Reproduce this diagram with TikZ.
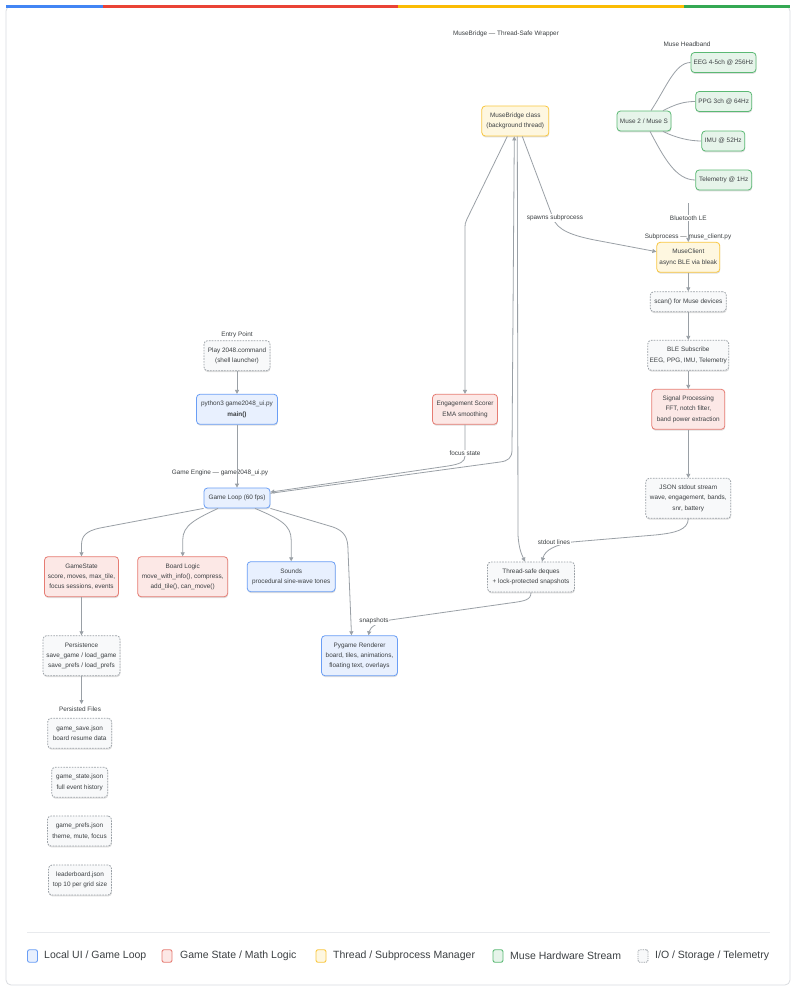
\documentclass[tikz,border=0pt]{standalone}
\usepackage{fontspec}
\setmainfont{Liberation Sans}
\usetikzlibrary{arrows.meta,shadows}
\definecolor{txt}{HTML}{3C4043}
\definecolor{edgec}{HTML}{9AA0A6}
\definecolor{frm}{HTML}{DADCE0}
\definecolor{sep}{HTML}{E8EAED}
\definecolor{gblue}{HTML}{4285F4}
\definecolor{gred}{HTML}{EA4335}
\definecolor{gyel}{HTML}{FBBC04}
\definecolor{ggrn}{HTML}{34A853}
\definecolor{uib}{HTML}{6A9EF5}
\definecolor{uif}{HTML}{E8F0FE}
\definecolor{lgb}{HTML}{E67C73}
\definecolor{lgf}{HTML}{FCE8E6}
\definecolor{thb}{HTML}{F9C740}
\definecolor{thf}{HTML}{FEF7E0}
\definecolor{hwb}{HTML}{5BB974}
\definecolor{hwf}{HTML}{E6F4EA}
\definecolor{iob}{HTML}{9AA0A6}
\definecolor{iof}{HTML}{F8F9FA}
\newcommand{\nf}{\fontsize{6.4}{10.3}\selectfont}
\newcommand{\lgf}{\fontsize{10.5}{12}\selectfont}
\tikzset{
  basebox/.style={rounded corners=3.5pt, align=center, inner sep=1pt, font=\nf, text=txt,
    line width=0.8pt, drop shadow={opacity=0.13, shadow xshift=0.4pt, shadow yshift=-1.4pt, fill=black}},
  uibox/.style={basebox, draw=uib, fill=uif},
  logicbox/.style={basebox, draw=lgb, fill=lgf},
  threadbox/.style={basebox, draw=thb, fill=thf},
  hwbox/.style={basebox, draw=hwb, fill=hwf},
  iobox/.style={basebox, draw=iob, fill=iof, dash pattern=on 1.6pt off 1.2pt},
  sz/.style 2 args={minimum width=#1pt, minimum height=#2pt},
  cl/.style={font=\nf, text=txt, inner sep=0pt},
  elbl/.style={font=\nf, text=txt, fill=white, inner sep=0.8pt},
  ln/.style={draw=edgec, line width=0.8pt},
  arr/.style={draw=edgec, line width=0.8pt, -{Triangle[length=4pt,width=4pt]}},
  swatch/.style={rounded corners=2pt, line width=0.9pt, minimum width=10pt, minimum height=12.5pt, inner sep=0pt},
  lgtext/.style={anchor=west, font=\lgf, text=txt, inner sep=0pt}
}
\begin{document}
\begin{tikzpicture}[x=1pt,y=-1pt]
\useasboundingbox (0,0) rectangle (796,991);
\fill[white] (0,0) rectangle (796,991);
% frame
\draw[draw=frm, line width=0.8pt, rounded corners=5pt] (6,6) rectangle (790,985);
\fill[gblue] (6,5) rectangle (103,8);
\fill[gred] (103,5) rectangle (398,8);
\fill[gyel] (398,5) rectangle (684,8);
\fill[ggrn] (684,5) rectangle (790,8);

% cluster labels
\node[cl] (t1) at (506,34) {MuseBridge — Thread-Safe Wrapper};
\node[cl] (t2) at (687,44) {Muse Headband};
\node[cl] (t3) at (688,237) {Subprocess — muse\_client.py};
\node[cl] (t4) at (237,335) {Entry Point};
\node[cl] (t5) at (220,473) {Game Engine — game2048\_ui.py};
\node[cl] (t6) at (80,709) {Persisted Files};

% nodes
\node[hwbox, sz={65}{20}] (eeg) at (723.5,62.5) {EEG 4-5ch @ 256Hz};
\node[hwbox, sz={56}{20}] (ppg) at (723.7,101.5) {PPG 3ch @ 64Hz};
\node[hwbox, sz={43}{20}] (imu) at (723.3,141) {IMU @ 52Hz};
\node[hwbox, sz={56}{20}] (tel) at (723.7,180) {Telemetry @ 1Hz};
\node[hwbox, sz={54}{20}] (muse) at (644,121) {Muse 2 / Muse S};
\node[threadbox, sz={67}{30}] (mb) at (515.3,121) {MuseBridge class\\(background thread)};
\node[threadbox, sz={63}{30}] (mc) at (688.3,257.3) {MuseClient\\async BLE via bleak};
\node[iobox, sz={76}{20}] (scan) at (688.3,301.7) {scan() for Muse devices};
\node[iobox, sz={81}{30}] (ble) at (688.3,355.3) {BLE Subscribe\\EEG, PPG, IMU, Telemetry};
\node[logicbox, sz={73}{40}] (sig) at (688.3,409.3) {Signal Processing\\FFT, notch filter,\\band power extraction};
\node[iobox, sz={85}{40}] (json) at (688.3,498.3) {JSON stdout stream\\wave, engagement, bands,\\snr, battery};
\node[iobox, sz={87}{30}] (tsd) at (531,577) {Thread-safe deques\\+ lock-protected snapshots};
\node[uibox, sz={76}{40}] (pr) at (359.5,655.7) {Pygame Renderer\\board, tiles, animations,\\floating text, overlays};
\node[iobox, sz={66}{30}] (play) at (237,355.7) {Play 2048.command\\(shell launcher)};
\node[uibox, sz={81}{30}] (py) at (237,409.3) {python3 game2048\_ui.py\\\textbf{main()}};
\node[uibox, sz={66}{20}] (gl) at (237,498) {Game Loop (60 fps)};
\node[logicbox, sz={65}{30}] (es) at (465,409.3) {Engagement Scorer\\EMA smoothing};
\node[logicbox, sz={74}{40}] (gs) at (81.5,576.7) {GameState\\score, moves, max\_tile,\\focus sessions, events};
\node[logicbox, sz={90}{40}] (bl) at (182.7,576.7) {Board Logic\\move\_with\_info(), compress,\\add\_tile(), can\_move()};
\node[uibox, sz={88}{30}] (snd) at (291.2,576.7) {Sounds\\procedural sine-wave tones};
\node[iobox, sz={77}{40}] (per) at (81.5,655.7) {Persistence\\save\_game / load\_game\\save\_prefs / load\_prefs};
\node[iobox, sz={64}{30}] (f1) at (79.7,733.3) {game\_save.json\\board resume data};
\node[iobox, sz={56}{30}] (f2) at (79.7,782.3) {game\_state.json\\full event history};
\node[iobox, sz={64}{30}] (f3) at (79.5,831) {game\_prefs.json\\theme, mute, focus};
\node[iobox, sz={63}{30}] (f4) at (80,880) {leaderboard.json\\top 10 per grid size};

% headband links
\draw[ln] ([xshift=7pt]muse.north) .. controls (666,88) and (675,62.5) .. (eeg.west);
\draw[ln] ([xshift=19pt]muse.north) .. controls (676,104) and (684,101.5) .. (ppg.west);
\draw[ln] ([xshift=19pt]muse.south) .. controls (676,138) and (690,141) .. (imu.west);
\draw[ln] ([xshift=6pt]muse.south) .. controls (664,158) and (676,180) .. (tel.west);

% subprocess chain
\coordinate (btsrc) at (688.3,203);
\draw[arr] (btsrc) -- (mc.north);
\draw[arr] ([xshift=7pt]mb.south) -- (553,218) .. controls (557,230) and (572,236) .. (600,241) -- (mc.170);
\draw[arr] (mc.south) -- (scan.north);
\draw[arr] (scan.south) -- (ble.north);
\draw[arr] (ble.south) -- (sig.north);
\draw[arr] (sig.south) -- (json.north);

% bridge links
\draw[arr] ([xshift=-8pt]mb.south) -- (467,219) .. controls (465,223) .. (465,232) -- (es.north);
\draw[arr] (es.south) -- (465,456) .. controls (465,462) and (460,464) .. (448,466) -- (gl.10);
\draw[arr] (gl.8) -- (500,462) .. controls (508,461) and (512,458) .. (512,450) -- ([xshift=-1pt]mb.south);
\draw[arr] ([xshift=2pt]mb.south) -- (518,535) .. controls (519,550) and (522,555) .. ([xshift=-6pt]tsd.north);
\draw[arr] (json.south) .. controls (688,530) and (675,533) .. (655,535) -- (572,542) .. controls (555,545) and (545,550) .. ([xshift=11pt]tsd.north);
\draw[arr] (tsd.south) .. controls (531,600) and (525,601) .. (510,603) -- (390,620) .. controls (378,622) and (370,627) .. ([xshift=9pt]pr.north);

% game engine links
\draw[arr] (play.south) -- (py.north);
\draw[arr] (py.south) -- (gl.north);
\draw[arr] (gl.south west) -- (100,528) .. controls (86,531) and (81.5,536) .. (81.5,545) -- (gs.north);
\draw[arr] ([xshift=-19pt]gl.south) .. controls (196,519) and (182.7,525) .. (182.7,540) -- (bl.north);
\draw[arr] ([xshift=18pt]gl.south) .. controls (280,519) and (291.2,525) .. (291.2,540) -- (snd.north);
\draw[arr] (gl.south east) -- (333,527) .. controls (344,531) and (348,537) .. (348,550) -- ([xshift=-8pt]pr.north);
\draw[arr] (gs.south) -- (per.north);
\coordinate (pfin) at (81.5,704);
\draw[arr] (per.south) -- (pfin);

% edge labels
\node[elbl] (lbt) at (688.3,218) {Bluetooth LE};
\node[elbl] (lsp) at (555,218) {spawns subprocess};
\node[elbl] (lfs) at (465,453) {focus state};
\node[elbl] (lso) at (554,542) {stdout lines};
\node[elbl] (lsn) at (374,621) {snapshots};

% legend
\draw[draw=sep, line width=0.8pt] (27,932) -- (770,932);
\node[swatch, draw=uib, fill=uif] (sw1) at (32.5,956) {};
\node[lgtext] (lt1) at (44,956) {Local UI / Game Loop};
\node[swatch, draw=lgb, fill=lgf] (sw2) at (167,956) {};
\node[lgtext] (lt2) at (180,956) {Game State / Math Logic};
\node[swatch, draw=thb, fill=thf] (sw3) at (321,956) {};
\node[lgtext] (lt3) at (333,956) {Thread / Subprocess Manager};
\node[swatch, draw=hwb, fill=hwf] (sw4) at (498,956) {};
\node[lgtext] (lt4) at (510,956) {Muse Hardware Stream};
\node[swatch, draw=iob, fill=iof, dash pattern=on 1.2pt off 1pt] (sw5) at (643,956) {};
\node[lgtext] (lt5) at (655,956) {I/O / Storage / Telemetry};
\end{tikzpicture}
\end{document}
